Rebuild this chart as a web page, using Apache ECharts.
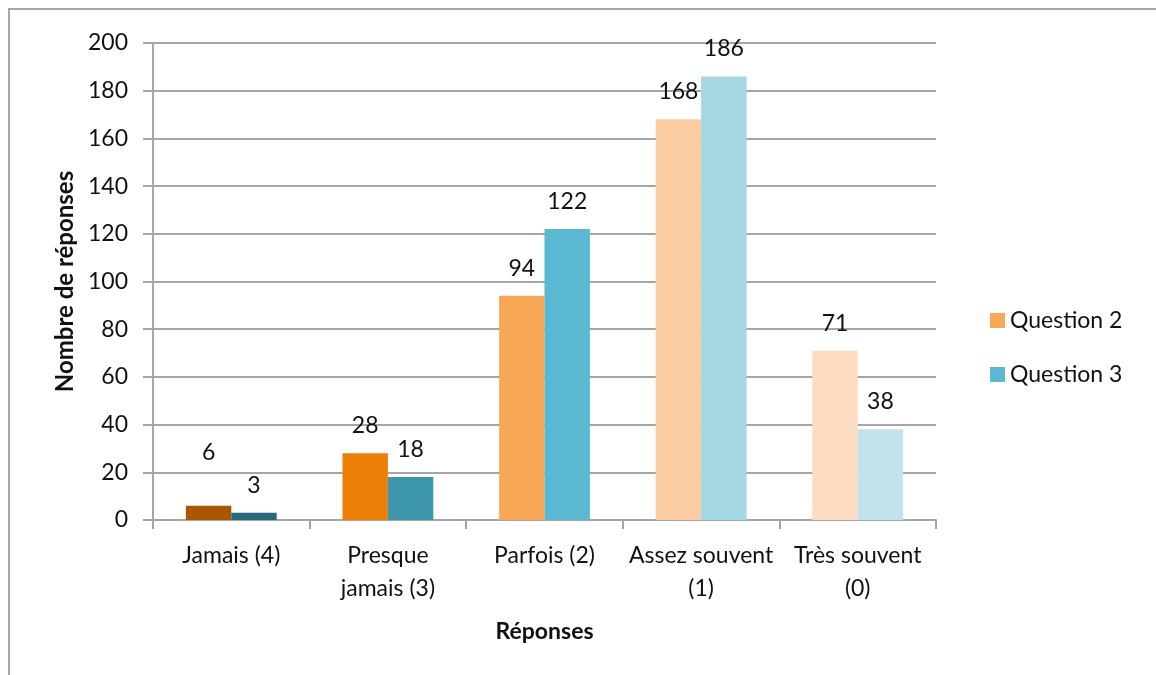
<!DOCTYPE html>
<html>
<head>
<meta charset="utf-8">
<script src="https://cdn.jsdelivr.net/npm/echarts@6/dist/echarts.min.js"></script>
<style>
  html, body { margin: 0; padding: 0; background: #fff; }
  #frame {
    position: absolute; left: 8px; top: 8px; width: 1148px; height: 667px;
    border-left: 2px solid #a6a6a6; border-top: 2px solid #a6a6a6;
    box-sizing: border-box;
  }
  #chart { position: absolute; left: 0; top: 0; width: 1156px; height: 675px; }
</style>
</head>
<body>
<div id="frame"></div>
<div id="chart"></div>
<script>
// categories and values
const categories = ['Jamais (4)', 'Presque\njamais (3)', 'Parfois (2)', 'Assez souvent\n(1)', 'Très souvent\n(0)']
const question2 = [6, 28, 94, 168, 71]
const question3 = [3, 18, 122, 186, 38]
const yTicks = [0, 20, 40, 60, 80, 100, 120, 140, 160, 180, 200]

// each category gets its own shade
const q2Colors = ['#a95700', '#ec7f05', '#f8a857', '#fbcba1', '#fcddc3']
const q3Colors = ['#28697a', '#3c96ac', '#5bb8d3', '#a4d6e4', '#c2e3eb']

const font = 'Lato, "Open Sans", sans-serif'
const chart = echarts.init(document.getElementById('chart'))

// labelLift: extra label distance for labels nudged up in the original (the "6")
const makeSeries = (name, values, colors, legendColor, labelLift = {}) => ({
  name,
  type: 'bar',
  barGap: '0%',
  barCategoryGap: '42%',
  itemStyle: { color: legendColor },
  data: values.map((v, i) => ({
    value: v,
    itemStyle: { color: colors[i] },
    label: labelLift[i] ? { distance: labelLift[i] } : undefined
  })),
  label: {
    show: true,
    position: 'top',
    distance: 16,
    color: '#111',
    fontSize: 23,
    fontFamily: font
  }
})

chart.setOption({
  animation: false,
  backgroundColor: 'transparent',
  grid: { left: 153, right: 220, top: 43, bottom: 155 },
  legend: {
    orient: 'vertical',
    left: 985,
    top: 304,
    itemWidth: 15,
    itemHeight: 15,
    itemGap: 31,
    icon: 'rect',
    textStyle: { color: '#111', fontSize: 23, fontFamily: font },
    data: ['Question 2', 'Question 3']
  },
  xAxis: {
    type: 'category',
    data: categories,
    name: 'Réponses',
    nameLocation: 'middle',
    nameGap: 100,
    nameTextStyle: { color: '#111', fontSize: 23, fontWeight: 'bold', fontFamily: font },
    axisLine: { lineStyle: { color: '#a6a6a6', width: 2 } },
    axisTick: { show: true, length: 9, lineStyle: { color: '#a6a6a6', width: 2 } },
    axisLabel: { color: '#111', fontSize: 23, fontFamily: font, margin: 19, lineHeight: 33, interval: 0 }
  },
  yAxis: {
    type: 'value',
    min: 0,
    max: 200,
    interval: 20,
    name: 'Nombre de réponses',
    nameLocation: 'middle',
    nameGap: 75,
    nameTextStyle: { color: '#111', fontSize: 24, fontWeight: 'bold', fontFamily: font },
    axisLine: { show: true, lineStyle: { color: '#a6a6a6', width: 2 } },
    axisTick: { show: true, length: 10, lineStyle: { color: '#a6a6a6', width: 2 } },
    axisLabel: {
      color: '#111', fontSize: 23, fontFamily: font, margin: 25,
      formatter: v => (yTicks.includes(v) ? String(v) : '')
    },
    splitLine: { lineStyle: { color: '#a6a6a6', width: 2 } }
  },
  series: [
    makeSeries('Question 2', question2, q2Colors, '#f8a857', { 0: 42 }),
    makeSeries('Question 3', question3, q3Colors, '#5bb8d3')
  ]
})

window.addEventListener('resize', () => chart && chart.resize())
</script>
</body>
</html>
